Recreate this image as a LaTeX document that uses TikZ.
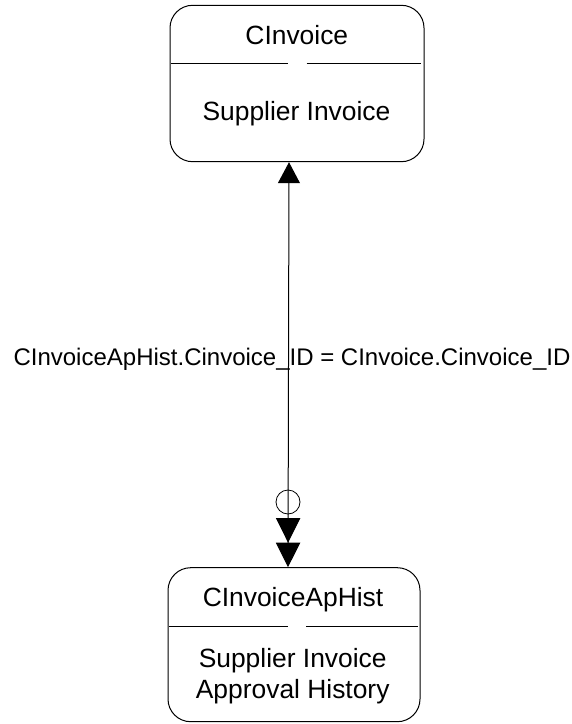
\documentclass[tikz,border=0pt]{standalone}
\usepackage{fontspec}
\setmainfont{Liberation Sans}
\usepackage{tikz}
\usetikzlibrary{positioning, arrows.meta}

\begin{document}
\begin{tikzpicture}[x=0.75pt,y=-0.75pt,
  entity/.style={draw,rounded corners=17pt,line width=0.75pt,inner sep=0pt},
  boxtext/.style={font=\fontsize{19.8}{23.25}\selectfont,inner sep=0pt,align=center},
  reltext/.style={font=\fontsize{18}{21}\selectfont,inner sep=0pt},
  ring/.style={draw,circle,minimum size=18pt,inner sep=0pt,line width=0.6pt}]
  \useasboundingbox (0,0) rectangle (571,724);

  % entities
  \node[entity,minimum width=190.5pt,minimum height=117.3pt] (inv) at (297,83.5) {};
  \node[entity,minimum width=189pt,minimum height=115.5pt] (hist) at (294,644.7) {};

  \node[boxtext,anchor=base] (invname) at (296.8,44.3) {CInvoice};
  \node[boxtext,anchor=base] (invdesc) at (296.5,120.7) {Supplier Invoice};
  \node[boxtext,anchor=base] (histname) at (293,606.7) {CInvoiceApHist};
  \node[boxtext] (histdesc) at (292.7,676) {Supplier Invoice\\Approval History};

  \draw[line width=0.75pt] (171,64) -- (288.3,64) (306.7,64) -- (421,64);
  \draw[line width=0.75pt] (169,626.7) -- (287.5,626.7) (306,626.7) -- (418,626.7);

  % relation
  \node[reltext,anchor=base] (rel) at (292,365) {CInvoiceApHist.Cinvoice\_ID = CInvoice.Cinvoice\_ID};
  \node[ring] (opt) at (288,502) {};
  \draw[line width=0.75pt,{Triangle[width=16.5pt,length=15.75pt]}-{Triangle[width=18.2pt,length=18.4pt] Triangle[width=18.2pt,length=18.4pt]}]
    ([xshift=-6pt]inv.south) -- ([xshift=-4.5pt]hist.north);
\end{tikzpicture}
\end{document}
